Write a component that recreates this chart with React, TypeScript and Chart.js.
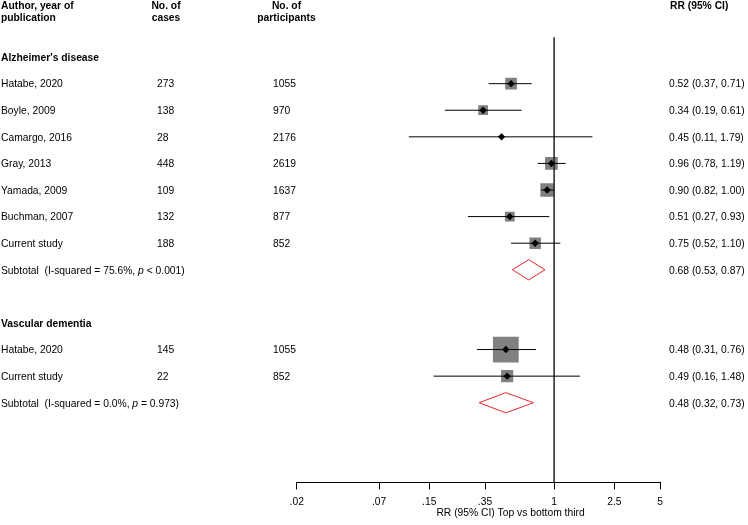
import React, { useEffect, useRef } from 'react';
import { Chart, registerables } from 'chart.js';

Chart.register(...registerables);

// ---- Data ----
const adStudies = ['Hatabe, 2020', 'Boyle, 2009', 'Camargo, 2016', 'Gray, 2013', 'Yamada, 2009', 'Buchman, 2007', 'Current study'];
const adCases = [273, 138, 28, 448, 109, 132, 188];
const adParticipants = [1055, 970, 2176, 2619, 1637, 877, 852];
const adRR = [0.52, 0.34, 0.45, 0.96, 0.90, 0.51, 0.75];
const adLower = [0.37, 0.19, 0.11, 0.78, 0.82, 0.27, 0.52];
const adUpper = [0.71, 0.61, 1.79, 1.19, 1.00, 0.93, 1.10];
const adWeights = [16.8, 11.7, 1.1, 19.8, 22.9, 11.7, 16.0];

const vdStudies = ['Hatabe, 2020', 'Current study'];
const vdCases = [145, 22];
const vdParticipants = [1055, 852];
const vdRR = [0.48, 0.49];
const vdLower = [0.31, 0.16];
const vdUpper = [0.76, 1.48];
const vdWeights = [82.0, 18.0];

const groupNames = ["Alzheimer's disease", 'Vascular dementia'];
const subtotalRR = [0.68, 0.48];
const subtotalLower = [0.53, 0.32];
const subtotalUpper = [0.87, 0.73];
const subtotalI2 = ['75.6%', '0.0%'];
const subtotalP = ['< 0.001', '= 0.973'];

const tickValues = [0.02, 0.07, 0.15, 0.35, 1, 2.5, 5];
const tickLabels = ['.02', '.07', '.15', '.35', '1', '2.5', '5'];
const axisTitle = 'RR (95% CI) Top vs bottom third';

// ---- Layout / style ----
const FONT = '"Liberation Sans", Arial, Helvetica, sans-serif';
const FS = 10.3;
const RED = '#e8262b';
const DIAMOND_H = 0.38;
const BOX_K = 2.85;

type Row = { name: string; cases: number; parts: number; rr: number; lo: number; hi: number; w: number; row: number };

const adRows: Row[] = adStudies.map((n, i) => ({ name: n, cases: adCases[i], parts: adParticipants[i], rr: adRR[i], lo: adLower[i], hi: adUpper[i], w: adWeights[i], row: i }));
const adSubRow = adStudies.length;
const vdHeadRow = adSubRow + 2;
const vdRows: Row[] = vdStudies.map((n, i) => ({ name: n, cases: vdCases[i], parts: vdParticipants[i], rr: vdRR[i], lo: vdLower[i], hi: vdUpper[i], w: vdWeights[i], row: vdHeadRow + 1 + i }));
const vdSubRow = vdHeadRow + 1 + vdStudies.length;
const allRows = [...adRows, ...vdRows];
const headRows = [-1, vdHeadRow];
const subRows = [adSubRow, vdSubRow];

const fmt = (v: number) => v.toFixed(2);

const textPlugin = {
  id: 'forestText',
  afterDraw(chart: any) {
    const ctx = chart.ctx as CanvasRenderingContext2D;
    const ys = chart.scales.y;
    const reg = `${FS}px ${FONT}`;
    const bold = `bold ${FS}px ${FONT}`;
    const ital = `italic ${FS}px ${FONT}`;
    ctx.save();
    ctx.fillStyle = '#000';
    ctx.textBaseline = 'middle';
    // header
    ctx.font = bold;
    ctx.textAlign = 'left';
    ctx.fillText('Author, year of', 1, 6.5);
    ctx.fillText('publication', 1, 18);
    ctx.textAlign = 'center';
    ctx.fillText('No. of', 166, 6.5);
    ctx.fillText('cases', 166, 18);
    ctx.fillText('No. of', 286.5, 6.5);
    ctx.fillText('participants', 286.5, 18);
    ctx.textAlign = 'left';
    ctx.fillText('RR (95% CI)', 670, 6.5);
    // group headings
    headRows.forEach((r, i) => {
      ctx.font = bold;
      ctx.fillText(groupNames[i], 1, ys.getPixelForValue(r) + 1);
    });
    // studies
    ctx.font = reg;
    allRows.forEach((s) => {
      const y = ys.getPixelForValue(s.row) + 1;
      ctx.fillText(s.name, 1, y);
      ctx.fillText(String(s.cases), 157, y);
      ctx.fillText(String(s.parts), 273, y);
      ctx.fillText(`${fmt(s.rr)} (${fmt(s.lo)}, ${fmt(s.hi)})`, 669, y);
    });
    // subtotals
    subRows.forEach((r, i) => {
      const y = ys.getPixelForValue(r) + 1;
      let x = 1;
      const a = `Subtotal  (I-squared = ${subtotalI2[i]}, `;
      ctx.font = reg;
      ctx.fillText(a, x, y);
      x += ctx.measureText(a).width;
      ctx.font = ital;
      ctx.fillText('p', x, y);
      x += ctx.measureText('p').width;
      ctx.font = reg;
      ctx.fillText(` ${subtotalP[i]})`, x, y);
      ctx.fillText(`${fmt(subtotalRR[i])} (${fmt(subtotalLower[i])}, ${fmt(subtotalUpper[i])})`, 669, y);
    });
    // axis title
    ctx.font = reg;
    ctx.textAlign = 'center';
    ctx.fillText(axisTitle, 510.5, 513.3);
    ctx.restore();
  },
};

export default function App() {
  const ref = useRef<HTMLCanvasElement | null>(null);
  useEffect(() => {
    if (!ref.current) return;
    const datasets: any[] = [];
    // centre markers (top)
    datasets.push({
      data: allRows.map((s) => ({ x: s.rr, y: s.row })),
      pointStyle: 'rectRot',
      pointRadius: 3.7,
      backgroundColor: '#000',
      borderWidth: 0,
      showLine: false,
      order: 0,
    });
    // CI lines
    allRows.forEach((s) => {
      datasets.push({
        data: [{ x: s.lo, y: s.row }, { x: s.hi, y: s.row }],
        showLine: true,
        borderColor: '#000',
        borderWidth: 1,
        pointRadius: 0,
        order: 1,
      });
    });
    // subtotal diamonds
    subRows.forEach((r, i) => {
      datasets.push({
        data: [
          { x: subtotalLower[i], y: r },
          { x: subtotalRR[i], y: r - DIAMOND_H },
          { x: subtotalUpper[i], y: r },
          { x: subtotalRR[i], y: r + DIAMOND_H },
          { x: subtotalLower[i], y: r },
        ],
        showLine: true,
        borderColor: RED,
        borderWidth: 1,
        pointRadius: 0,
        order: 1,
      });
    });
    // null line
    datasets.push({
      data: [{ x: 1, y: -1.75 }, { x: 1, y: 15 }],
      showLine: true,
      borderColor: '#222',
      borderWidth: 1.5,
      pointRadius: 0,
      order: 2,
    });
    // weight boxes
    datasets.push({
      data: allRows.map((s) => ({ x: s.rr, y: s.row })),
      pointStyle: 'rect',
      pointRadius: allRows.map((s) => (BOX_K * Math.sqrt(s.w)) / Math.SQRT2),
      backgroundColor: '#808080',
      borderWidth: 0,
      showLine: false,
      order: 3,
    });

    const chart = new Chart(ref.current, {
      type: 'scatter',
      data: { datasets },
      options: {
        responsive: false,
        animation: false,
        events: [],
        layout: { padding: { left: 296.7, right: 88, top: 3, bottom: 0 } },
        plugins: { legend: { display: false }, tooltip: { enabled: false }, title: { display: false } },
        scales: {
          x: {
            type: 'logarithmic',
            position: 'bottom',
            min: 0.02,
            max: 5,
            afterBuildTicks: (scale: any) => {
              scale.ticks = tickValues.map((v) => ({ value: v }));
            },
            afterFit: (scale: any) => {
              scale.height = 42.5;
            },
            ticks: {
              autoSkip: false,
              maxRotation: 0,
              minRotation: 0,
              padding: 6,
              color: '#000',
              font: { family: FONT, size: FS },
              callback: (v: any) => {
                const i = tickValues.indexOf(Number(v));
                return i >= 0 ? tickLabels[i] : '';
              },
            },
            grid: { drawOnChartArea: false, drawTicks: true, tickLength: 7, color: '#000', lineWidth: 1 },
            border: { display: true, color: '#000', width: 1 },
            title: { display: false },
          },
          y: {
            type: 'linear',
            min: -2.46,
            max: 15,
            reverse: true,
            display: false,
          },
        },
      } as any,
      plugins: [textPlugin],
    });
    return () => chart.destroy();
  }, []);
  return (
    <div style={{ position: 'fixed', left: 0, top: 0, width: 748, height: 525, background: '#fff' }}>
      <canvas ref={ref} width={748} height={525} style={{ width: 748, height: 525, display: 'block' }} />
    </div>
  );
}
